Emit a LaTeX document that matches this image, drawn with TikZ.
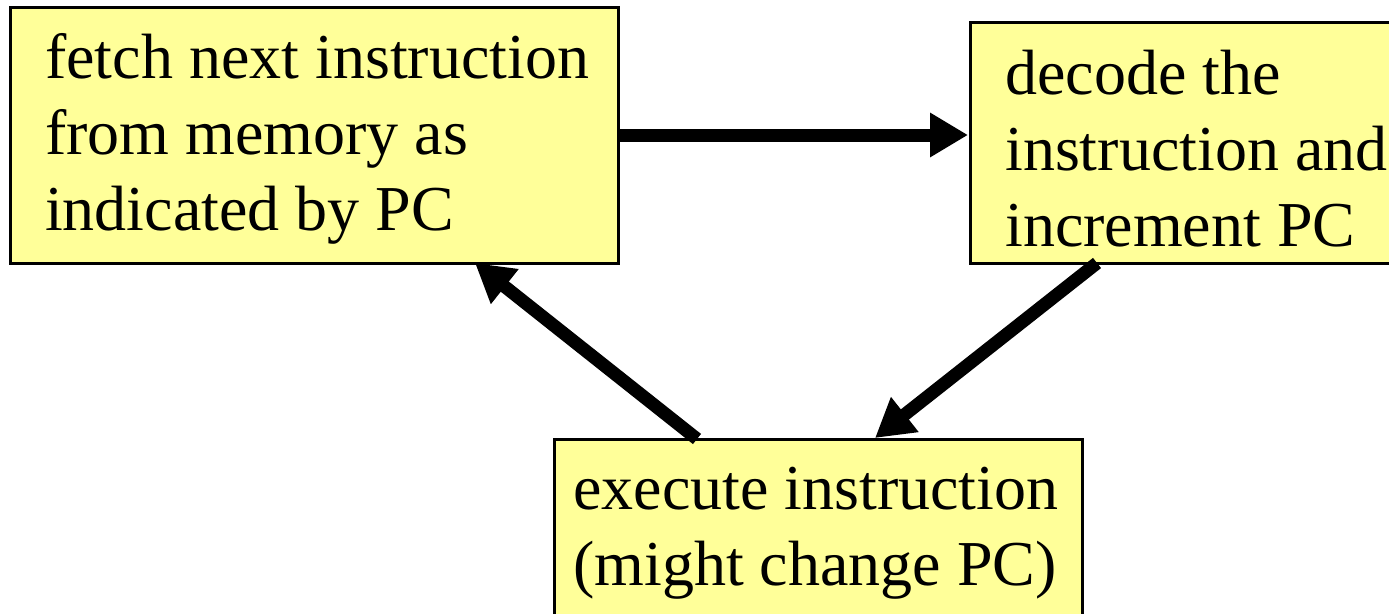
\documentclass[tikz,border=0pt]{standalone}
\usepackage{fontspec}
\setmainfont{Liberation Serif}
\usetikzlibrary{arrows.meta}
\definecolor{boxfill}{RGB}{255,255,153}
\tikzset{
  stagebox/.style={draw=black, line width=3pt, fill=boxfill, inner sep=0pt},
  stagetext/.style={anchor=base west, inner sep=0pt, font=\fontsize{64}{76}\selectfont, align=left},
  flow/.style={line width=13pt, -{Triangle[length=38pt,width=42pt]}}
}
\begin{document}
\begin{tikzpicture}[x=1pt,y=-1pt]
\useasboundingbox (0,0) rectangle (1389,613);
% stage boxes
\path[stagebox] (10,7) rectangle (618,263);
\path[stagebox] (970,22) rectangle (1400,263);
\path[stagebox] (554,439) rectangle (1082,630);
% stage labels (anchored at the baseline of the last line)
\node[stagetext] (fetch) at (45,230) {fetch next instruction\\from memory as\\indicated by PC};
\node[stagetext] (decode) at (1005,246) {decode the\\instruction and\\increment PC};
\node[stagetext] (exec) at (573,585) {execute instruction\\(might change PC)};
% connector end points on the box borders
\coordinate (fetchR) at (620,135);
\coordinate (decodeL) at (968,135);
\coordinate (decodeB) at (1097,263);
\coordinate (execT) at (875,438);
\coordinate (execT2) at (697,439);
\coordinate (fetchB) at (475,263);
% cycle arrows
\draw[flow] (fetchR) -- (decodeL);
\draw[flow] (decodeB) -- (execT);
\draw[flow] (execT2) -- (fetchB);
\end{tikzpicture}
\end{document}
